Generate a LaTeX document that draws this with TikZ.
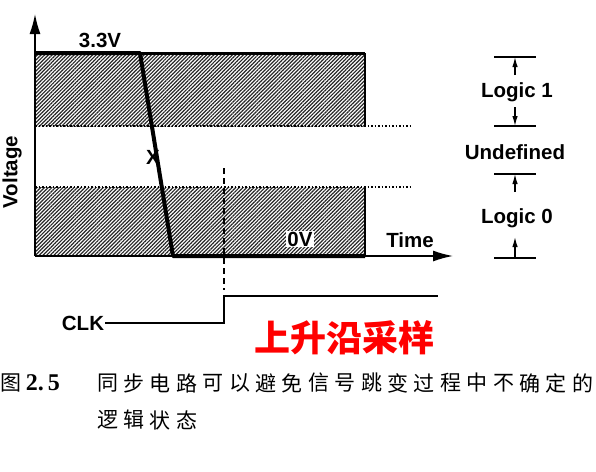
\documentclass[tikz,border=0pt]{standalone}
\usepackage{fontspec}
\setmainfont{Liberation Sans}
\newfontfamily\cjk{Noto Sans CJK SC}
\newfontfamily\numfont{Liberation Serif}
\usepackage{xcolor}
\usepackage{tikz}
\usetikzlibrary{arrows.meta}
\usetikzlibrary{patterns.meta}
\usetikzlibrary{positioning}

\begin{document}
\begin{tikzpicture}[x=1pt, y=-1pt, lbl/.style={font=\fontsize{20.5}{24}\selectfont\bfseries, inner sep=1pt}, captext/.style={font=\fontsize{21}{24}\selectfont\cjk, inner sep=0pt}, band/.style={pattern={Lines[angle=45, distance=2.6pt, line width=1.2pt]}, pattern color=black!85}, edge/.style={line width=1.4pt}, border/.style={line width=1.7pt, dash pattern=on 1.5pt off 2pt}, axis/.style={line width=1.5pt, -{Latex[length=20pt, width=11pt]}}, dim/.style={line width=1.3pt, -{Latex[length=10pt, width=5.5pt]}}, signal/.style={line width=4pt, line join=round}]
  \useasboundingbox (0,0) rectangle (596,471);
  \coordinate (origin) at (35,256);
  \coordinate (ytip) at (35,14);
  \coordinate (xtip) at (453,256);
  \path[band] (35,53) rectangle (365,126);
  \path[band] (35,187) rectangle (365,256);
  \draw[edge] (365,53) -- (365,126);
  \draw[edge] (365,187) -- (365,256);
  \draw[border] (35,126) -- (410,126);
  \draw[border] (35,187) -- (410,187);
  \draw[line width=3pt] (140,53) -- (365,53);
  \draw[axis] (origin) -- (ytip);
  \draw[axis] (origin) -- (xtip);
  \coordinate (s0) at (35,53);
  \coordinate (s1) at (140,53);
  \coordinate (s2) at (173,256);
  \coordinate (s3) at (365,256);
  \draw[signal] (s0) -- (s1) -- (s2) -- (s3);
  \node[lbl] (high) at (100,40) {3.3V};
  \node[lbl] (cross) at (153,157) {X};
  \node[lbl, fill=white] (low) at (300,239) {0V};
  \node[lbl] (time) at (410,240) {Time};
  \node[lbl, rotate=90] (volt) at (12,172) {Voltage};
  \node[lbl] (one) at (517,92) {Logic 1};
  \node[lbl] (undef) at (515,152) {Undefined};
  \node[lbl] (zero) at (517,218) {Logic 0};
  \foreach \y/\n in {57/b1, 126/b2, 174/b3, 258/b4}{
    \coordinate (\n) at (515,\y);
    \draw[edge] (494,\y) -- (536,\y);
  }
  \coordinate (a1) at (515,75);
  \coordinate (a2) at (515,107);
  \coordinate (a3) at (515,192);
  \coordinate (a4) at (515,237);
  \draw[dim] (a1) -- (b1);
  \draw[dim] (a2) -- (b2);
  \draw[dim] (a3) -- (b3);
  \draw[dim] (b4) -- (a4);
  \coordinate (sample) at (224,168);
  \coordinate (edgelow) at (224,323);
  \coordinate (edgehigh) at (224,296);
  \coordinate (clkend) at (438,296);
  \draw[line width=1.8pt, dash pattern=on 6pt off 4pt] (sample) -- (224,290);
  \node[lbl] (clk) at (83,323) {CLK};
  \draw[line width=1.2pt] (clk.east) -- (edgelow) -- (edgehigh) -- (clkend);
  \node[red, font=\fontsize{36}{40}\selectfont\cjk\bfseries] (rise) at (344,338) {上升沿采样};
  \node[captext, anchor=west] (fig) at (0,383) {图 {\fontsize{24}{24}\selectfont\numfont\bfseries 2.\,5}};
  \foreach \c [count=\i from 0] in {同,步,电,路,可,以,避,免,信,号,跳,变,过,程,中,不,确,定,的}
    \node[captext] (capa\i) at (107.5+26.4*\i,383) {\c};
  \foreach \c [count=\i from 0] in {逻,辑,状,态}
    \node[captext] (capb\i) at (107.5+26.4*\i,420) {\c};
\end{tikzpicture}
\end{document}
